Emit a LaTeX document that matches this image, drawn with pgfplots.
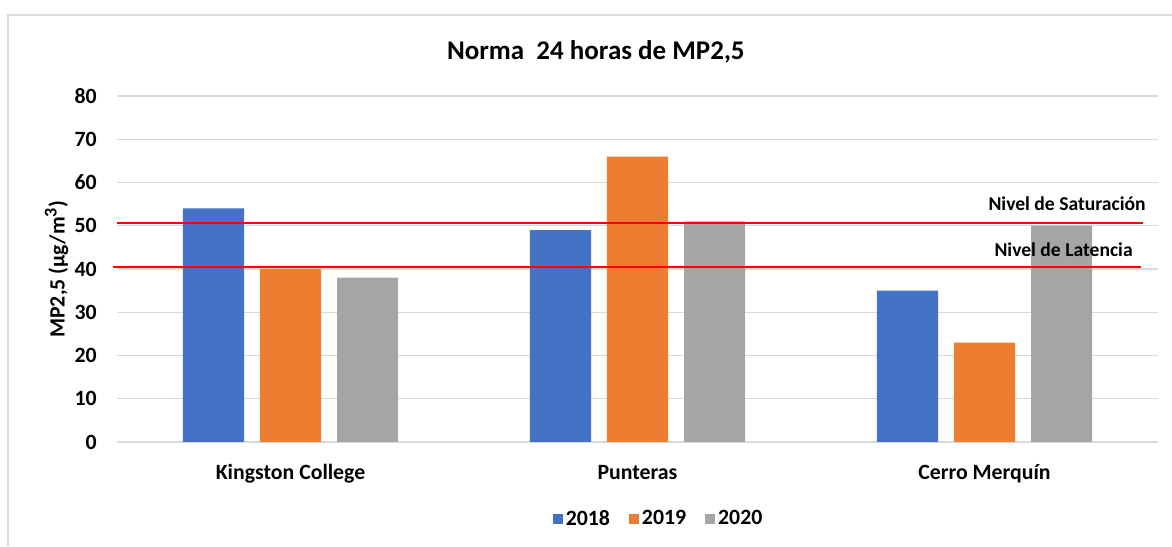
\documentclass[border=0pt]{standalone}
\usepackage{fontspec}
\setmainfont{Carlito}
\usepackage{pgfplots}
\usepackage{pgfplotstable}
\pgfplotsset{compat=1.18}
\definecolor{cblue}{HTML}{4472C4}
\definecolor{corange}{HTML}{ED7D31}
\definecolor{cgray}{HTML}{A5A5A5}
\definecolor{gridgray}{HTML}{D9D9D9}
\definecolor{cred}{HTML}{FF0000}
\pgfplotstableread{
x y2018 y2019 y2020
0 54 40 38
1 49 66 51
2 35 23 50
}\datatable
\begin{document}
\begin{tikzpicture}
\path[use as bounding box] (0,0) rectangle (586pt,273pt);
\draw[gridgray, line width=0.75pt] (4pt,0) -- (4pt,265.5pt) -- (586pt,265.5pt);
\begin{axis}[
  at={(58.5pt,52pt)}, anchor=south west,
  scale only axis, width=520.5pt, height=173pt,
  xmin=-0.5, xmax=2.5, ymin=0, ymax=80,
  ytick={0,10,...,80},
  xtick={0,1,2},
  xticklabels={Kingston College, Punteras, Cerro Merquín},
  major tick length=0pt,
  axis line style={draw=none},
  ymajorgrids, grid style={gridgray, line width=0.65pt},
  /pgf/number format/assume math mode=true,
  tick label style={font=\fontsize{10.9}{12}\selectfont\bfseries},
  yticklabel style={anchor=east, inner sep=0pt, xshift=-10pt},
  xticklabel style={anchor=base, inner sep=0pt, yshift=-18.5pt},
  ylabel={MP2,5 (µg/m\textsuperscript{\fontsize{9}{10}\selectfont 3})},
  ylabel style={at={(axis description cs:-0.058,0.5)}, anchor=center, font=\fontsize{10.9}{12}\selectfont\bfseries},
  every axis title shift=0pt,
  title={Norma\ \ 24 horas de MP2,5},
  title style={at={(axis description cs:0.46,1.128)}, anchor=center, font=\fontsize{13.5}{15}\selectfont\bfseries},
  ybar, bar width=0.176,
  clip=false,
  legend columns=3,
  legend style={at={(axis description cs:0.5207,-0.2225)}, anchor=center, draw=none,
    font=\fontsize{10.9}{12}\selectfont\bfseries,
    nodes={inner sep=1.5pt},
    /tikz/every even column/.append style={column sep=8pt}},
  legend image code/.code={\fill[#1] (0pt,-2.5pt) rectangle (5pt,2.5pt);},
]
\addplot[fill=cblue, draw=none, bar shift=-0.222] table[x=x, y=y2018] {\datatable};
\addlegendentry{2018}
\addplot[fill=corange, draw=none, bar shift=0] table[x=x, y=y2019] {\datatable};
\addlegendentry{2019}
\addplot[fill=cgray, draw=none, bar shift=0.222] table[x=x, y=y2020] {\datatable};
\addlegendentry{2020}
\addplot[sharp plot, cred, line width=1pt, forget plot] coordinates {(-0.5,50.6) (2.456,50.6)};
\addplot[sharp plot, cred, line width=1pt, forget plot] coordinates {(-0.512,40.5) (2.45,40.5)};
\node[font=\fontsize{9.8}{11}\selectfont\bfseries] at (axis cs:2.238,55) {Nivel de Saturación};
\node[font=\fontsize{9.8}{11}\selectfont\bfseries] at (axis cs:2.228,44.4) {Nivel de Latencia};
\end{axis}
\end{tikzpicture}
\end{document}
